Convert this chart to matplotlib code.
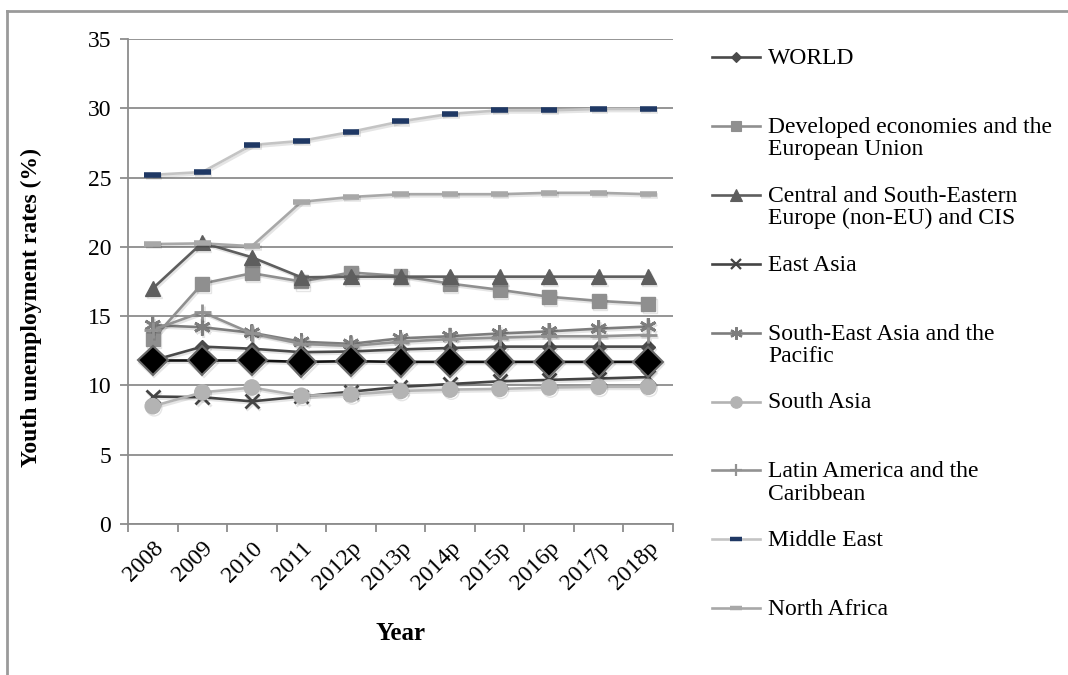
import matplotlib
matplotlib.use("Agg")
import matplotlib.pyplot as plt
import matplotlib.patheffects as pe
from matplotlib.lines import Line2D

plt.rcParams["font.family"] = ["Liberation Serif", "DejaVu Serif"]

years = ["2008", "2009", "2010", "2011", "2012p", "2013p", "2014p",
         "2015p", "2016p", "2017p", "2018p"]

world = [11.8, 12.8, 12.65, 12.4, 12.45, 12.6, 12.7, 12.8, 12.8, 12.8, 12.8]
developed = [13.35, 17.35, 18.1, 17.5, 18.15, 17.9, 17.35, 16.9, 16.4, 16.1, 15.9]
central_se_europe = [17.0, 20.3, 19.25, 17.8, 17.85, 17.85, 17.85, 17.85, 17.85, 17.85, 17.85]
east_asia = [9.2, 9.15, 8.85, 9.2, 9.55, 9.9, 10.1, 10.3, 10.4, 10.5, 10.6]
se_asia_pacific = [14.35, 14.2, 13.8, 13.15, 13.0, 13.4, 13.55, 13.75, 13.9, 14.1, 14.25]
south_asia = [8.5, 9.5, 9.85, 9.25, 9.35, 9.6, 9.7, 9.75, 9.85, 9.9, 9.9]
latin_america = [14.0, 15.3, 13.75, 13.0, 12.85, 13.15, 13.35, 13.45, 13.55, 13.55, 13.65]
middle_east = [25.2, 25.4, 27.35, 27.65, 28.3, 29.05, 29.6, 29.85, 29.85, 29.95, 29.95]
north_africa = [20.2, 20.25, 20.05, 23.25, 23.6, 23.8, 23.8, 23.8, 23.9, 23.9, 23.8]
sub_saharan_africa = [11.8, 11.8, 11.8, 11.7, 11.75, 11.7, 11.7, 11.7, 11.7, 11.7, 11.7]

labels = [
    "WORLD",
    "Developed economies and the\nEuropean Union",
    "Central and South-Eastern\nEurope (non-EU) and CIS",
    "East Asia",
    "South-East Asia and the\nPacific",
    "South Asia",
    "Latin America and the\nCaribbean",
    "Middle East",
    "North Africa",
]

shadow = [pe.SimpleLineShadow(offset=(1, -1.5), shadow_color="#000000", alpha=0.10),
          pe.Normal()]

LW = 1.9
styles = [
    dict(data=world, color="#4a4a4a", marker="D", ms=7, mfc="#4a4a4a", mec="#4a4a4a"),
    dict(data=developed, color="#8f8f8f", marker="s", ms=10, mfc="#8f8f8f", mec="#8f8f8f"),
    dict(data=central_se_europe, color="#5e5e5e", marker="^", ms=11, mfc="#5e5e5e", mec="#5e5e5e"),
    dict(data=east_asia, color="#444444", marker="x", ms=10, mfc="none", mec="#444444", mew=2),
    dict(data=se_asia_pacific, color="#7d7d7d", marker=(6, 2, 0), ms=12, mfc="none", mec="#7d7d7d", mew=2),
    dict(data=south_asia, color="#b3b3b3", marker="o", ms=11, mfc="#b3b3b3", mec="#b3b3b3"),
    dict(data=latin_america, color="#929292", marker="+", ms=12, mfc="none", mec="#929292", mew=2),
    dict(data=middle_east, color="#c4c4c4", marker="_", ms=12, mfc="#1f3864", mec="#1f3864", mew=4),
    dict(data=north_africa, color="#a8a8a8", marker="_", ms=12, mfc="#a8a8a8", mec="#a8a8a8", mew=4),
]

fig = plt.figure(figsize=(10.68, 6.75), dpi=100)
ax = fig.add_axes([128 / 1068, 1 - 524 / 675, 545 / 1068, 485 / 675])

x = list(range(len(years)))

for st in styles:
    ax.plot(x, st["data"], color=st["color"], lw=LW, marker=st["marker"],
            ms=st["ms"], mfc=st["mfc"], mec=st["mec"], mew=st.get("mew", 1),
            path_effects=shadow, zorder=3)

# Sub-Saharan Africa series (legend box has no room for it)
ax.plot(x, sub_saharan_africa, color="#111111", lw=LW, marker="D", ms=15,
        mfc="#000000", mec="#6a6a6a", mew=1.5, path_effects=shadow, zorder=4)

ax.set_xlim(-0.5, len(years) - 0.5)
ax.set_ylim(0, 35)
ax.set_yticks(range(0, 36, 5))
ax.grid(axis="y", color="#8c8c8c", lw=1.3)
ax.set_axisbelow(True)

for s in ["top", "right"]:
    ax.spines[s].set_visible(False)
for s in ["left", "bottom"]:
    ax.spines[s].set_color("#8c8c8c")
    ax.spines[s].set_linewidth(1.3)

FS = 17
ax.set_xticks(x)
ax.set_xticklabels(years, rotation=45, ha="right", rotation_mode="anchor", fontsize=FS)
ax.tick_params(axis="x", which="major", length=0, pad=10)
ax.set_xticks([i - 0.5 for i in range(len(years) + 1)], minor=True)
ax.tick_params(axis="x", which="minor", length=6, color="#8c8c8c", width=1.3)
ax.tick_params(axis="y", length=6, color="#8c8c8c", width=1.3, labelsize=FS, pad=6)

ax.set_ylabel("Youth unemployment rates (%)", fontsize=FS, fontweight="bold")
ax.yaxis.set_label_coords(-0.158, 0.447)
ax.set_xlabel("Year", fontsize=18, fontweight="bold", labelpad=20)

# Legend drawn entry by entry so the handles line up with the first text line
top_y = 57
step = 68.9
for i, (st, lab) in enumerate(zip(styles, labels)):
    yy = 1 - (top_y + i * step) / 675
    fig.add_artist(Line2D([712 / 1068, 760 / 1068], [yy, yy], transform=fig.transFigure,
                          color=st["color"], lw=LW))
    fig.add_artist(Line2D([736 / 1068], [yy], transform=fig.transFigure,
                          color=st["color"], lw=0, marker=st["marker"],
                          ms=st["ms"] * 0.75, mfc=st["mfc"], mec=st["mec"],
                          mew=st.get("mew", 1) * 0.8))
    fig.text(768 / 1068, yy + 9 / 675, lab, fontsize=FS, va="top", ha="left",
             linespacing=1.08)

# outer chart frame (top and left edges)
fig.add_artist(Line2D([7 / 1068, 1.0], [1 - 11 / 675, 1 - 11 / 675],
                      transform=fig.transFigure, color="#9a9a9a", lw=2))
fig.add_artist(Line2D([7 / 1068, 7 / 1068], [0, 1 - 11 / 675],
                      transform=fig.transFigure, color="#9a9a9a", lw=2))

fig.savefig("out.png", dpi=100)
